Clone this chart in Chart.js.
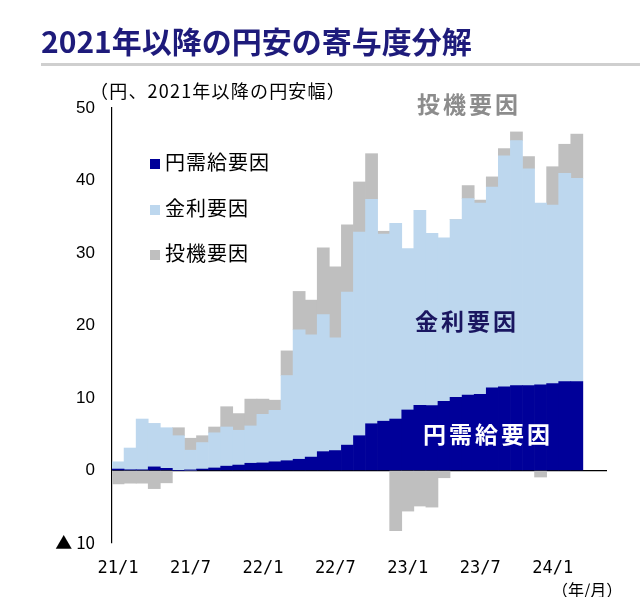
<!DOCTYPE html>
<html><head><meta charset="utf-8">
<script src="https://cdn.jsdelivr.net/npm/chart.js@4.4.1/dist/chart.umd.min.js"></script>
<style>
body{margin:0;background:#fff;}
#wrap{position:relative;width:640px;height:597px;overflow:hidden;font-family:"Liberation Sans","Noto Sans CJK JP",sans-serif;}
.t{position:absolute;white-space:nowrap;}
.ann{position:absolute;white-space:nowrap;font-family:'Noto Sans CJK JP';font-weight:bold;font-size:23px;line-height:30px;letter-spacing:3px;}
.lg{position:absolute;white-space:nowrap;font-family:'Noto Sans CJK JP';font-size:20px;line-height:28px;letter-spacing:1px;color:#000;}
.lg span{display:inline-block;width:10px;height:10px;margin-right:5px;vertical-align:1px;}
canvas{position:absolute;left:0;top:0;}
</style></head>
<body><div id="wrap">
<canvas id="c" width="640" height="597"></canvas>
<div class="t" style="left:41px;top:22px;font:bold 30px 'Noto Sans CJK JP';color:#1e1b7b;line-height:36px;">2021年以降の円安の寄与度分解</div>
<div style="position:absolute;left:41px;top:63px;width:599px;height:3px;background:#cfcfcf"></div>
<div class="t" style="left:90px;top:79px;font-size:18px;line-height:22px;letter-spacing:1.2px;color:#000;font-family:'Noto Sans CJK JP';">（円、2021年以降の円安幅）</div>
<div class="ann" style="left:417px;top:88px;color:#8c8c8c;">投機要因</div>
<div class="ann" style="left:415px;top:305px;color:#1a1660;">金利要因</div>
<div class="ann" style="left:423px;top:418px;color:#ffffff;">円需給要因</div>
<div class="lg" style="left:150px;top:148px;"><span style="background:#000099"></span>円需給要因</div>
<div class="lg" style="left:150px;top:194px;"><span style="background:#bdd7ee"></span>金利要因</div>
<div class="lg" style="left:150px;top:239px;"><span style="background:#bfbfbf"></span>投機要因</div>
<div class="t" style="left:552px;top:579px;font-size:16px;line-height:20px;font-family:'Noto Sans CJK JP';">（年/月）</div>
</div>
<script>
const months = [
 "21/1","21/2","21/3","21/4","21/5","21/6","21/7","21/8","21/9","21/10","21/11","21/12",
 "22/1","22/2","22/3","22/4","22/5","22/6","22/7","22/8","22/9","22/10","22/11","22/12",
 "23/1","23/2","23/3","23/4","23/5","23/6","23/7","23/8","23/9","23/10","23/11","23/12",
 "24/1","24/2","24/3","24/4","24/5"];
const supplyDemand = [0.2,0.1,0.1,0.5,0.3,0.0,0.05,0.2,0.35,0.6,0.75,1.0,
 1.05,1.2,1.35,1.55,1.85,2.6,2.75,3.5,4.8,6.45,6.8,7.1,
 8.35,9.0,8.95,9.55,10.1,10.4,10.5,11.4,11.55,11.7,11.7,11.8,
 12.0,12.25,12.25];
const interest = [1.0,3.0,7.0,6.0,5.6,4.8,2.75,3.65,4.85,5.4,4.8,5.15,
 6.7,7.1,11.75,17.85,16.85,18.9,15.55,21.1,28.1,30.95,25.8,27.0,
 22.25,26.9,23.75,22.55,24.5,27.1,26.4,27.7,31.85,33.8,29.9,25.1,
 24.6,28.75,28.05];
const speculation = [-1.85,-1.75,-1.75,-2.5,-1.7,1.1,1.65,0.95,0.8,2.8,2.3,3.7,
 2.1,1.4,3.4,5.3,4.8,9.2,9.8,9.3,6.9,6.3,0.4,-8.3,
 -5.6,-4.9,-5.05,-1.0,0.0,1.8,0.4,1.4,1.0,1.2,1.7,-0.9,
 5.3,4.0,6.1];
const yTicks = [50,40,30,20,10,0,-10];

new Chart(document.getElementById('c'), {
  type: 'bar',
  data: {
    labels: months,
    datasets: [
      {label:'円需給要因', data: supplyDemand, backgroundColor:'#000099'},
      {label:'金利要因', data: interest, backgroundColor:'#bdd7ee'},
      {label:'投機要因', data: speculation, backgroundColor:'#bfbfbf'}
    ]
  },
  options: {
    responsive:false, animation:false,
    layout:{padding:{left:0,right:33,top:108,bottom:0}},
    datasets:{bar:{barPercentage:1,categoryPercentage:1,borderWidth:0}},
    plugins:{legend:{display:false},tooltip:{enabled:false}},
    scales:{
      x:{stacked:true,
        grid:{display:false,drawTicks:false},
        border:{display:false},
        ticks:{autoSkip:false,maxRotation:0,minRotation:0,padding:15,color:'#000',
          font:{family:"'DejaVu Sans Mono','Liberation Mono'",size:17},
          callback:function(v,i){return i%6===0?months[i]:'';}},
        afterFit:function(s){s.height=54;}
      },
      y:{stacked:true,min:-10,max:50,
        afterBuildTicks:function(s){s.ticks=yTicks.map(v=>({value:v}));},
        grid:{drawTicks:false,color:function(c){return c.tick&&c.tick.value===0?'#000':'rgba(0,0,0,0)';},lineWidth:1.2},
        border:{display:true,color:'#000',width:1.2},
        ticks:{padding:17,color:'#000',
          font:function(c){return (c.tick&&c.tick.value<0)?{family:"'Noto Sans CJK JP'",size:17}:{family:"'Liberation Sans'",size:17};},
          callback:function(v){return v<0?'▲ '+(-v):String(v);}},
        afterFit:function(s){s.width=112;}
      }
    }
  }
});
</script>
</body></html>
